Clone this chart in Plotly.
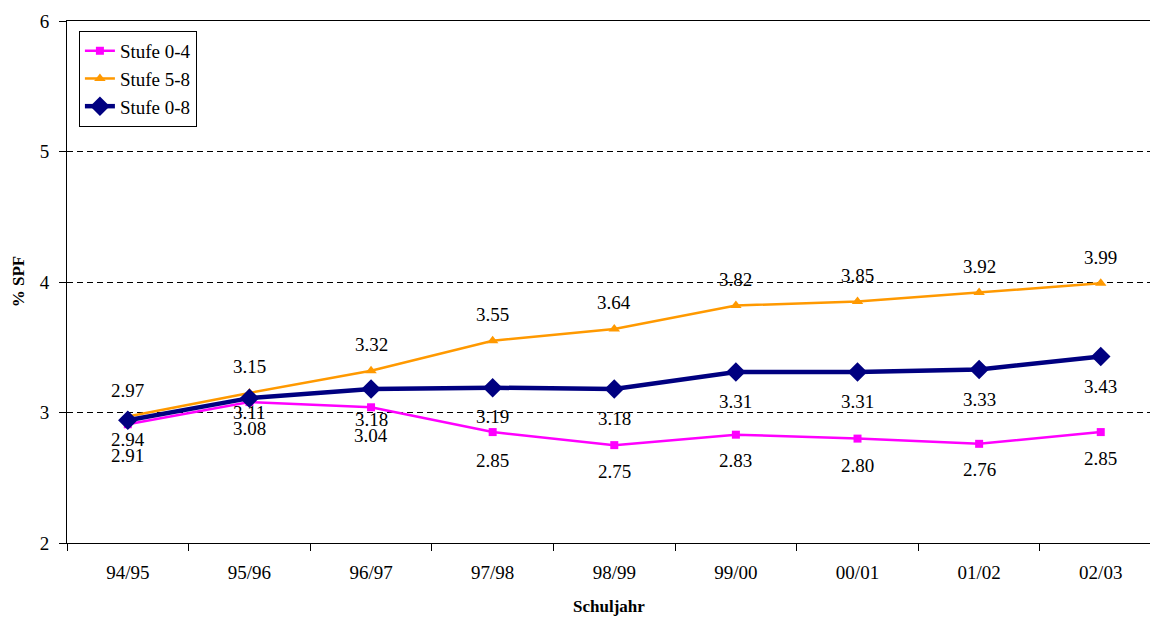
import plotly.graph_objects as go

# School years and % SPF per level
years = ["94/95", "95/96", "96/97", "97/98", "98/99", "99/00", "00/01", "01/02", "02/03"]
stufe_0_4 = [2.91, 3.08, 3.04, 2.85, 2.75, 2.83, 2.80, 2.76, 2.85]
stufe_5_8 = [2.97, 3.15, 3.32, 3.55, 3.64, 3.82, 3.85, 3.92, 3.99]
stufe_0_8 = [2.94, 3.11, 3.18, 3.19, 3.18, 3.31, 3.31, 3.33, 3.43]

# vertical label offsets in pixels (negative = below the point)
off_0_4 = [-31, -26, -28, -28, -26, -26, -27, -26, -26]
off_5_8 = [26] * 9
off_0_8 = [-19, -14, -30, -29, -29, -29, -29, -30, -30]

SERIF = "Liberation Serif"

fig = go.Figure()
fig.add_trace(go.Scatter(
    x=years, y=stufe_0_4, name="Stufe 0-4", mode="lines+markers",
    line=dict(color="#FF00FF", width=2.5),
    marker=dict(symbol="square", size=8, color="#FF00FF"),
))
fig.add_trace(go.Scatter(
    x=years, y=stufe_5_8, name="Stufe 5-8", mode="lines+markers",
    line=dict(color="#FF9900", width=2.5),
    marker=dict(symbol="triangle-up", size=10, color="#FF9900"),
))
fig.add_trace(go.Scatter(
    x=years, y=stufe_0_8, name="Stufe 0-8", mode="lines+markers",
    line=dict(color="#000080", width=4.5),
    marker=dict(symbol="diamond", size=15, color="#000080"),
))

annotations = []
for series, offs in ((stufe_0_4, off_0_4), (stufe_5_8, off_5_8), (stufe_0_8, off_0_8)):
    for yr, v, o in zip(years, series, offs):
        annotations.append(dict(
            x=yr, y=v, text=f"{v:.2f}", showarrow=False, yshift=o,
            font=dict(family=SERIF, size=19, color="black"),
        ))

annotations.append(dict(
    xref="paper", yref="paper", x=-0.045, y=0.5, text="<b>% SPF</b>",
    textangle=-90, showarrow=False, xanchor="center", yanchor="middle",
    font=dict(family=SERIF, size=17, color="black"),
))
annotations.append(dict(
    xref="paper", yref="paper", x=0.5, y=-0.1226, text="<b>Schuljahr</b>",
    showarrow=False, xanchor="center", yanchor="middle",
    font=dict(family=SERIF, size=17, color="black"),
))

fig.update_layout(
    width=1150, height=617,
    margin=dict(l=67, r=0, t=21, b=74),
    paper_bgcolor="white", plot_bgcolor="white",
    font=dict(family=SERIF, size=19, color="black"),
    annotations=annotations,
    legend=dict(
        x=0.011, y=0.981, xanchor="left", yanchor="top",
        bgcolor="white", bordercolor="black", borderwidth=1,
        font=dict(family=SERIF, size=19, color="black"),
        tracegroupgap=0, itemwidth=30,
    ),
    xaxis=dict(
        type="category", categoryorder="array", categoryarray=years,
        range=[-0.5, 8.405],
        showline=True, linecolor="black", linewidth=1, mirror=True,
        ticks="outside", tickson="boundaries", ticklen=7, tickcolor="black",
        showgrid=False, zeroline=False, ticklabelstandoff=12,
        tickfont=dict(family=SERIF, size=19, color="black"),
    ),
    yaxis=dict(
        range=[2, 6], dtick=1, tick0=2,
        showline=True, linecolor="black", linewidth=1,
        ticks="outside", ticklen=7, tickcolor="black",
        showgrid=True, gridcolor="black", gridwidth=1, griddash="6px,4px",
        zeroline=False, ticklabelstandoff=6,
        tickfont=dict(family=SERIF, size=19, color="black"),
    ),
)

fig.write_html("out.html")
